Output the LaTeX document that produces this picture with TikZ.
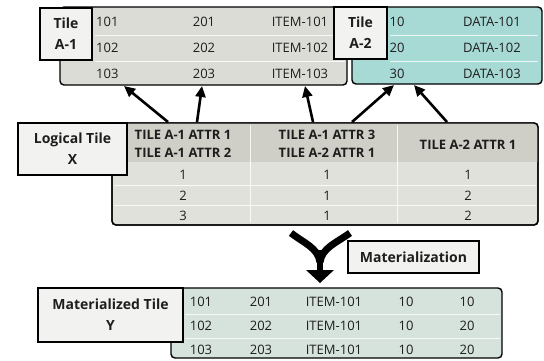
\documentclass[tikz,border=0pt]{standalone}
\usepackage{fontspec}
\setmainfont{Open Sans}
\usetikzlibrary{arrows.meta}
\definecolor{grayA}{HTML}{DCDCD6}
\definecolor{tealA}{HTML}{A8DAD5}
\definecolor{hdr}{HTML}{CFCFC8}
\definecolor{logi}{HTML}{E1E1DC}
\definecolor{mint}{HTML}{D6E2DC}
\definecolor{lbl}{HTML}{F2F2F0}
\definecolor{txt}{HTML}{1E1E1E}
\tikzset{
  tbl/.style={draw=black, line width=1.4pt, rounded corners=4pt, inner sep=0pt},
  lblbox/.style={draw=black, line width=1.4pt, fill=lbl, inner sep=0pt, align=center,
    font=\fontsize{14}{21}\selectfont\bfseries, text=txt},
  cell/.style={font=\fontsize{13}{15}\selectfont, text=txt, inner sep=0pt},
  hcell/.style={font=\fontsize{13}{18}\selectfont\bfseries, text=txt, inner sep=0pt, align=center},
  sep/.style={white, line width=0.8pt, opacity=0.8},
  link/.style={line width=2.6pt, -{Triangle[length=11pt,width=10pt]}},
}
\begin{document}
\begin{tikzpicture}[x=1pt,y=-1pt]
\useasboundingbox[fill=white] (0,0) rectangle (544,360);
% ---- Tile A-1
\node[tbl, fill=grayA, minimum width=287pt, minimum height=78pt] (A1) at (203.5,46) {};
\draw[sep] (95,35) -- (345,35) (95,61) -- (345,61);
\foreach \a/\b/\c [count=\i] in {101/201/ITEM-101,102/202/ITEM-102,103/203/ITEM-103}{
  \node[cell, anchor=west] (a1r\i c1) at (96,22+26*\i-26) {\a};
  \node[cell] (a1r\i c2) at (204,22+26*\i-26) {\b};
  \node[cell] (a1r\i c3) at (300,22+26*\i-26) {\c};
}
\node[lblbox, minimum width=52pt, minimum height=52pt] (LA1) at (66,34) {Tile\\A-1};
% ---- Tile A-2
\node[tbl, fill=tealA, minimum width=190pt, minimum height=77pt] (A2) at (447,45.5) {};
\draw[sep] (390,35) -- (538,35) (390,61) -- (538,61);
\foreach \a/\b [count=\i] in {10/DATA-101,20/DATA-102,30/DATA-103}{
  \node[cell] (a2r\i c1) at (397,22+26*\i-26) {\a};
  \node[cell] (a2r\i c2) at (492,22+26*\i-26) {\b};
}
\node[lblbox, minimum width=53pt, minimum height=52pt] (LA2) at (360.5,33) {Tile\\A-2};
% ---- Logical Tile X
\node[tbl, fill=logi, minimum width=426pt, minimum height=102pt] (LX) at (325,174) {};
\begin{scope}
  \clip[rounded corners=4pt] (112,123) rectangle (538,225);
  \fill[hdr] (112,123) rectangle (538,162);
\end{scope}
\draw[tbl, fill=none] (112,123) rectangle (538,225);
\draw[sep] (250,125) -- (250,223) (397,125) -- (397,223);
\draw[sep] (114,185) -- (536,185) (114,205) -- (536,205);
\node[hcell] (h1) at (183,144) {TILE A-1 ATTR 1\\TILE A-1 ATTR 2};
\node[hcell] (h2) at (327,144) {TILE A-1 ATTR 3\\TILE A-2 ATTR 1};
\node[hcell] (h3) at (468,145) {TILE A-2 ATTR 1};
\foreach \a/\b/\c [count=\i] in {1/1/1,2/1/2,3/1/2}{
  \node[cell] (xr\i c1) at (183,175+20.5*\i-20.5) {\a};
  \node[cell] (xr\i c2) at (327,175+20.5*\i-20.5) {\b};
  \node[cell] (xr\i c3) at (468,175+20.5*\i-20.5) {\c};
}
\node[lblbox, minimum width=109pt, minimum height=52pt] (LLX) at (72.5,149) {Logical Tile\\X};
% ---- links
\coordinate (s1) at (168,122); \coordinate (t1) at (124,86);
\coordinate (s2) at (197,122); \coordinate (t2) at (202,86);
\coordinate (s3) at (313,122); \coordinate (t3) at (305,86);
\coordinate (s4) at (352,122); \coordinate (t4) at (394,85);
\coordinate (s5) at (447,122); \coordinate (t5) at (414,85);
\foreach \i in {1,...,5}{\draw[link] (s\i) -- (t\i);}
% ---- big fork arrow
\coordinate (fl) at (291,233); \coordinate (fr) at (350,233);
\coordinate (fj) at (320,262); \coordinate (ft) at (320,283);
\draw[line width=7pt] (fl) .. controls (304,243) and (318,248) .. (fj);
\draw[line width=7pt] (fr) .. controls (336,243) and (322,248) .. (fj);
\draw[line width=6.5pt] (320,250) -- (320,272);
\fill (306,270) -- (334,270) -- (ft) -- cycle;
\node[lblbox, minimum width=131pt, minimum height=32pt] (MAT) at (413.5,257) {Materialization};
% ---- Materialized Tile Y
\node[tbl, fill=mint, minimum width=331pt, minimum height=70pt] (MY) at (336.5,323) {};
\draw[sep] (185,314) -- (500,314) (185,338) -- (500,338);
\foreach \a/\b/\c/\d/\e [count=\i] in {101/201/ITEM-101/10/10,102/202/ITEM-101/10/20,103/203/ITEM-101/10/20}{
  \node[cell] (yr\i c1) at (201,302+24*\i-24) {\a};
  \node[cell] (yr\i c2) at (261,302+24*\i-24) {\b};
  \node[cell] (yr\i c3) at (334,302+24*\i-24) {\c};
  \node[cell] (yr\i c4) at (406,302+24*\i-24) {\d};
  \node[cell] (yr\i c5) at (467,302+24*\i-24) {\e};
}
\node[lblbox, minimum width=145pt, minimum height=54pt] (LMY) at (110.5,315) {Materialized Tile\\Y};
\end{tikzpicture}
\end{document}
